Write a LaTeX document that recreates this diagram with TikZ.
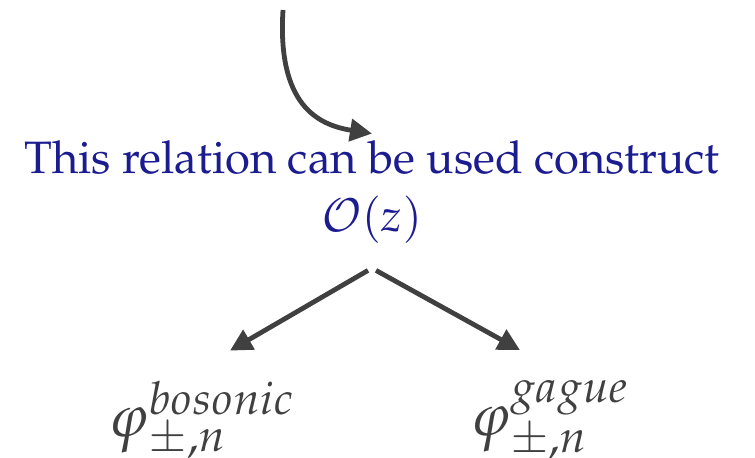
\documentclass[tikz,border=0pt]{standalone}
\usepackage[T1]{fontenc}
\usepackage{mathpazo}
\usetikzlibrary{arrows.meta,positioning}

\definecolor{relblue}{RGB}{28,28,145}
\definecolor{flowgray}{RGB}{64,64,64}
\tikzset{
  flow/.style={draw=flowgray, line width=2.4pt, -{Triangle[length=11pt,width=11pt]}},
  field/.style={text=flowgray, font=\fontsize{30}{36}\selectfont, inner sep=0pt},
}

\begin{document}
\begin{tikzpicture}[x=0.5pt,y=-0.5pt]
  \useasboundingbox (0,0) rectangle (755,458);
  \node[relblue, font=\fontsize{22.7}{29}\selectfont, align=center] (rel) at (372,192)
    {This relation can be used construct\\$\mathcal{O}(z)$};
  \node[field] (bos) at (202,420) {$\varphi^{bosonic}_{\pm,n}$};
  \node[field] (gau) at (550,420) {$\varphi^{gague}_{\pm,n}$};
  % incoming arrow and the split
  \coordinate (src) at (283,10);
  \draw[flow] (src) .. controls (277,105) and (318,125) .. (rel.north);
  \draw[flow] ([xshift=-2pt,yshift=-10pt]rel.south) -- ([xshift=14pt,yshift=15pt]bos.north);
  \draw[flow] ([xshift=2pt,yshift=-10pt]rel.south) -- ([xshift=-15pt,yshift=15pt]gau.north);
\end{tikzpicture}
\end{document}
